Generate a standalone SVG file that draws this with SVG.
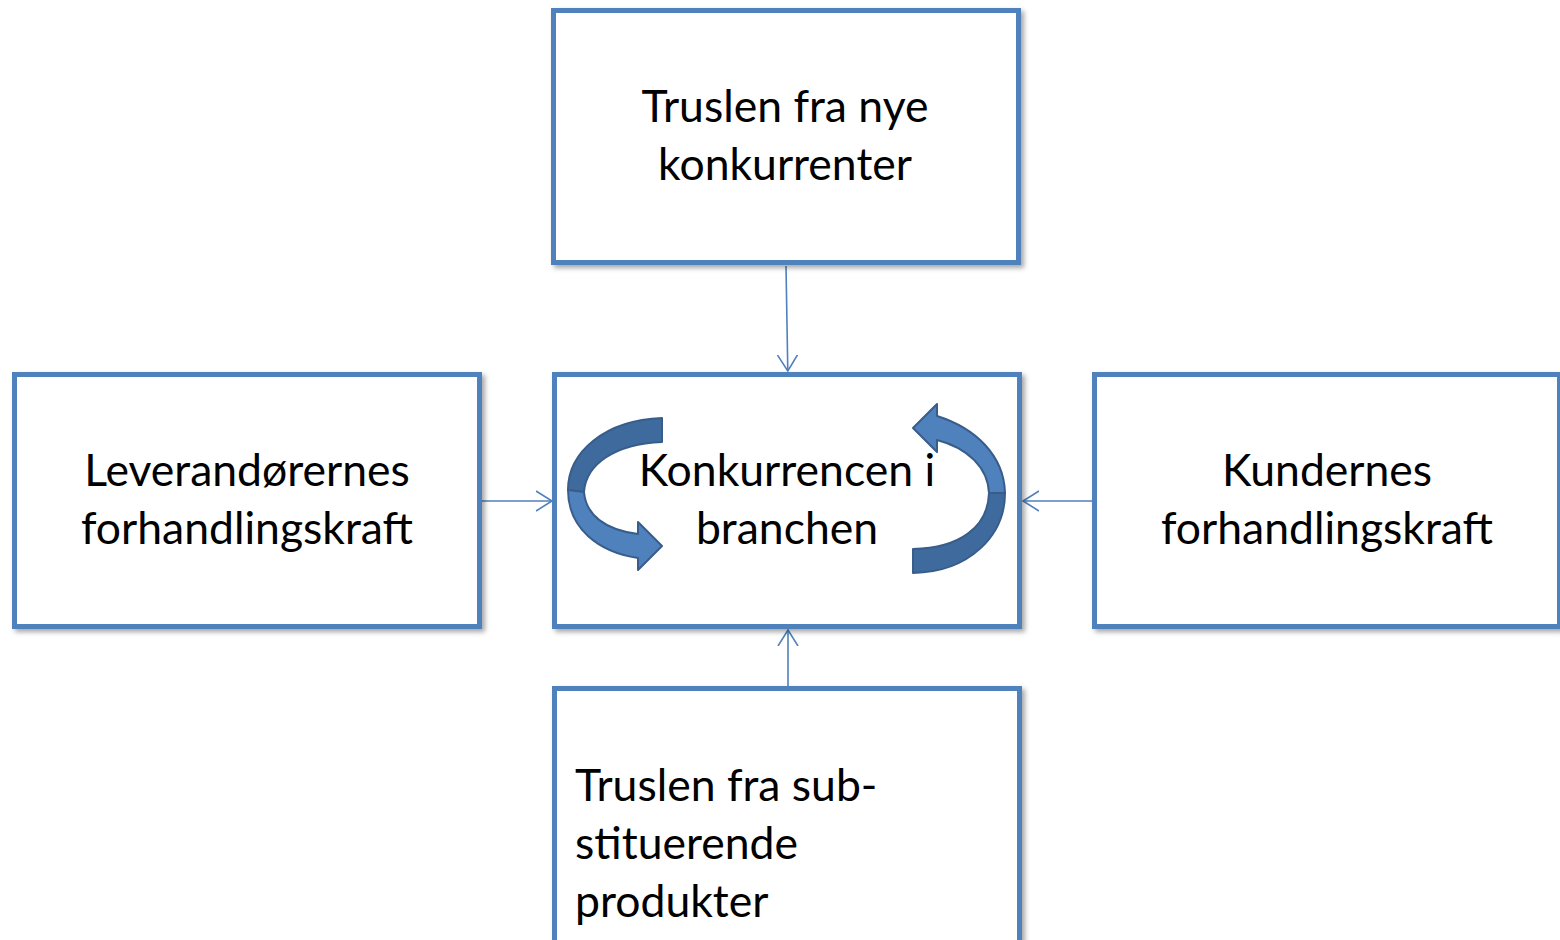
<svg xmlns="http://www.w3.org/2000/svg" width="1560" height="940" viewBox="0 0 1560 940">
<defs>
<style>
.box{fill:#fff;stroke:#4F81BD;stroke-width:5;filter:url(#sh)}
.lbl{font-family:Lato,"Open Sans",sans-serif;font-size:44.5px;fill:#000}
.c{text-anchor:middle}
.conn{stroke:#4F81BD;stroke-width:1.6;fill:none;marker-end:url(#ah)}
.back{fill:#3E6A9D;stroke:#385D8A;stroke-width:2;stroke-linejoin:round}
.front{fill:#4F81BD;stroke:#385D8A;stroke-width:2;stroke-linejoin:round}
</style>
<filter id="sh" x="-5%" y="-5%" width="115%" height="115%">
<feDropShadow dx="3" dy="3" stdDeviation="2.5" flood-color="#000" flood-opacity="0.35"/>
</filter>
<marker id="ah" markerUnits="userSpaceOnUse" markerWidth="20" markerHeight="24" refX="16" refY="11" orient="auto" viewBox="0 0 20 24">
<path d="M0,1 L16,11 L0,21" fill="none" stroke="#4F81BD" stroke-width="1.6"/>
</marker>
</defs>

<g id="connectors">
<line class="conn" x1="786" y1="266" x2="787.8" y2="371"/>
<line class="conn" x1="482" y1="501" x2="552" y2="501"/>
<line class="conn" x1="1092" y1="501" x2="1023" y2="501"/>
<line class="conn" x1="788" y1="686" x2="788" y2="630"/>
</g>

<g id="node-top">
<rect class="box" x="553.5" y="10.5" width="465" height="252"/>
<text class="lbl c" x="785" y="122">Truslen fra nye</text>
<text class="lbl c" x="785" y="180">konkurrenter</text>
</g>

<g id="node-left">
<rect class="box" x="14.5" y="374.5" width="465" height="252"/>
<text class="lbl c" x="247" y="486">Leverandørernes</text>
<text class="lbl c" x="247" y="544">forhandlingskraft</text>
</g>

<g id="node-right">
<rect class="box" x="1094.5" y="374.5" width="465" height="252"/>
<text class="lbl c" x="1327" y="486">Kundernes</text>
<text class="lbl c" x="1327" y="544">forhandlingskraft</text>
</g>

<g id="node-bottom">
<rect class="box" x="554.5" y="688.5" width="465" height="260"/>
<text class="lbl" x="575" y="801">Truslen fra sub-</text>
<text class="lbl" x="575" y="859">stituerende</text>
<text class="lbl" x="575" y="917">produkter</text>
</g>

<g id="node-center">
<rect class="box" x="554.5" y="374.5" width="465" height="252"/>
<g id="cycle-left">
<path class="back" d="M662,418 C605,420 568,452 568,490 L584,492 C586,464 615,444 662,442 Z"/>
<path class="front" d="M568,490 C568,528 598,552 638,558 L638,570 L662,546 L638,522 L638,534 C605,530 586,515 584,492 Z"/>
</g>
<g id="cycle-right">
<path class="back" d="M913,573 C970,572 1005,535 1005,493 L989,493 C988,527 960,548 913,549 Z"/>
<path class="front" d="M1005,493 C1004,455 975,428 937,416 L937,404 L913,428 L937,452 L937,440 C968,448 988,468 989,493 Z"/>
</g>
<text class="lbl c" x="787" y="486">Konkurrencen i</text>
<text class="lbl c" x="787" y="544">branchen</text>
</g>
</svg>
